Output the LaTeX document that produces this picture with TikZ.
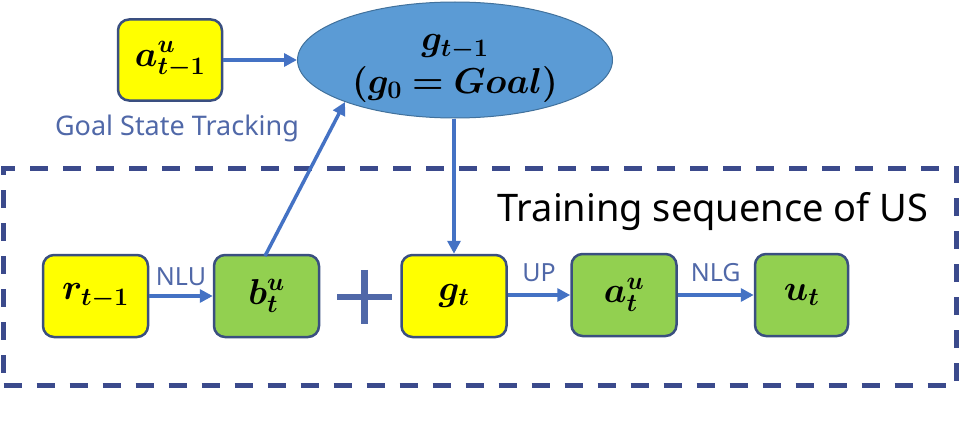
\RequirePackage{fix-cm}
\documentclass[tikz,border=0pt]{standalone}
\usepackage{fontspec}
\usepackage{amsmath}
\usepackage{bm}
\setsansfont{Noto Sans}
\usetikzlibrary{arrows.meta,shapes.geometric}
\definecolor{boxyellow}{HTML}{FFFF00}
\definecolor{boxgreen}{HTML}{92D050}
\definecolor{boxborder}{HTML}{3A4F80}
\definecolor{arrowblue}{HTML}{4472C4}
\definecolor{ellfill}{HTML}{5B9BD5}
\definecolor{ellborder}{HTML}{41719C}
\definecolor{labelblue}{HTML}{5068A8}
\definecolor{dashblue}{HTML}{3B4A8C}
\tikzset{
  mbox/.style={draw=boxborder, line width=2.5pt, rounded corners=11pt, minimum width=#1, minimum height=82pt, inner sep=0pt, font=\fontsize{36}{36}\selectfont},
  ybox/.style={mbox=105pt, fill=boxyellow},
  gbox/.style={mbox=105pt, fill=boxgreen},
  conn/.style={draw=arrowblue, line width=3.5pt, -{Triangle[length=13pt,width=13pt]}},
  lbl/.style={text=labelblue, font=\sffamily\fontsize{25}{25}\selectfont, inner sep=0pt},
}
\begin{document}
\begin{tikzpicture}[x=1pt,y=-1pt]
\useasboundingbox (0,0) rectangle (960,436);
% dashed frame
\node[draw=dashblue, line width=5pt, dash pattern=on 18pt off 15pt, minimum width=953pt, minimum height=217pt, inner sep=0pt] (frame) at (480,276.5) {};
% ellipse
\node[ellipse, fill=ellfill, draw=ellborder, line width=1pt, minimum width=315pt, minimum height=116pt, inner sep=0pt, align=center, font=\fontsize{36}{38}\selectfont] (g1) at (455,60) {};
\node[font=\fontsize{36}{36}\selectfont, inner sep=0pt] (g1a) at (455,47) {$\bm{g_{t-1}}$};
\node[font=\fontsize{36}{36}\selectfont, inner sep=0pt] (g1b) at (455,84) {$\bm{(g_0 = Goal)}$};
% boxes
\node[ybox, minimum width=104pt, minimum height=81pt] (aprev) at (170,60) {$\bm{a^{u}_{t-1}}$};
\node[ybox] (r) at (95.5,296) {$\bm{r_{t-1}}$};
\node[gbox] (b) at (266.5,296) {$\bm{b^{u}_{t}}$};
\node[ybox] (g) at (454,296) {$\bm{g_{t}}$};
\node[gbox] (a) at (624,295) {$\bm{a^{u}_{t}}$};
\node[gbox, minimum width=93pt] (u) at (801.5,295) {$\bm{u_{t}}$};
% plus sign
\node[inner sep=0pt, minimum size=54pt] (plus) at (364.5,297) {};
\draw[draw=labelblue, line width=6.5pt] (plus.west) -- (plus.east) (plus.north) -- (plus.south);
% texts
\node[lbl, anchor=north, font=\sffamily\fontsize{27}{27}\selectfont] (gst) at (177,115) {Goal State Tracking};
\node[font=\sffamily\fontsize{38}{38}\selectfont, inner sep=0pt] (ts) at (713,212) {Training sequence of US};
% connectors
\draw[conn] (aprev.east) -- (g1.west |- aprev.east);
\coordinate (bstart) at (265,256);
\coordinate (gend) at (345,102);
\draw[conn] (bstart) -- (gend);
\draw[conn] (g1.south -| g.north) -- (g.north);
\draw[conn] (r.east) -- node[lbl, above=9pt] (nlu) {NLU} (b.west);
\draw[conn] (g.east |- a.west) -- node[lbl, above=12pt] (up) {UP} (a.west);
\draw[conn] (a.east) -- node[lbl, above=12pt] (nlg) {NLG} (u.west);
\end{tikzpicture}
\end{document}
